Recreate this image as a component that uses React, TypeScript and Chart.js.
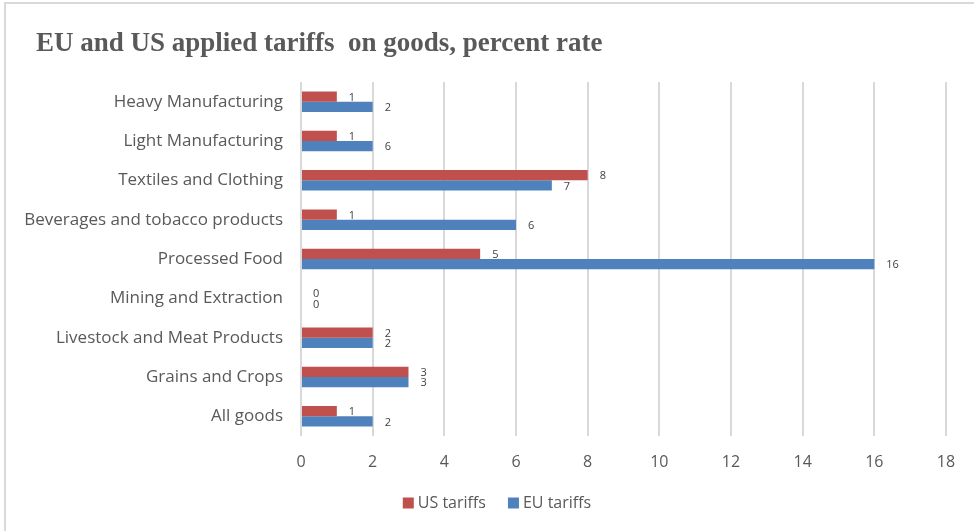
import React, { useEffect, useRef } from "react";
import { Chart, registerables } from "chart.js";

Chart.register(...registerables);

const categories = [
  "Heavy Manufacturing",
  "Light Manufacturing",
  "Textiles and Clothing",
  "Beverages and tobacco products",
  "Processed Food",
  "Mining and Extraction",
  "Livestock and Meat Products",
  "Grains and Crops",
  "All goods",
];
const usTariffs = [1, 1, 8, 1, 5, 0, 2, 3, 1];
const euTariffs = [2, 2, 7, 6, 16, 0, 2, 3, 2];
const usLabels = ["1", "1", "8", "1", "5", "0", "2", "3", "1"];
const euLabels = ["2", "6", "7", "6", "16", "0", "2", "3", "2"];
const xMin = 0;
const xMax = 18;
const xStep = 2;
const titleText = "EU and US applied tariffs  on goods, percent rate";
const seriesNames = ["US tariffs", "EU tariffs"];

const RED = "#C0504D";
const BLUE = "#4F81BD";
const TEXT = "#595959";
const FONT = "'Open Sans', sans-serif";

const labelPlugin = {
  id: "barLabels",
  afterDatasetsDraw(chart: any) {
    const ctx = chart.ctx;
    const all = [usLabels, euLabels];
    ctx.save();
    ctx.font = `11px ${FONT}`;
    ctx.fillStyle = "#404040";
    ctx.textAlign = "left";
    ctx.textBaseline = "middle";
    chart.data.datasets.forEach((_d: any, i: number) => {
      const meta = chart.getDatasetMeta(i);
      meta.data.forEach((bar: any, j: number) => {
        ctx.fillText(all[i][j], bar.x + 12, bar.y + 1);
      });
    });
    ctx.restore();
  },
};

const titlePlugin = {
  id: "customTitle",
  afterDraw(chart: any) {
    const ctx = chart.ctx;
    ctx.save();
    ctx.font = `bold 27px 'Liberation Serif', serif`;
    ctx.fillStyle = TEXT;
    ctx.textAlign = "left";
    ctx.textBaseline = "middle";
    ctx.fillText(titleText, 36, 44);
    ctx.restore();
  },
};

const legendPlugin = {
  id: "customLegend",
  afterDraw(chart: any) {
    const ctx = chart.ctx;
    ctx.save();
    ctx.font = `16px ${FONT}`;
    ctx.textBaseline = "middle";
    ctx.textAlign = "left";
    const box = 11;
    const gapBox = 4;
    const gapItem = 22;
    const ds = chart.data.datasets;
    const widths = ds.map((d: any) => box + gapBox + ctx.measureText(d.label).width);
    const total = widths.reduce((a: number, b: number) => a + b, 0) + gapItem * (ds.length - 1);
    let x = 497 - total / 2;
    const y = 503;
    ds.forEach((d: any, i: number) => {
      ctx.fillStyle = d.backgroundColor;
      ctx.fillRect(x, y - box / 2, box, box);
      ctx.fillStyle = TEXT;
      ctx.fillText(d.label, x + box + gapBox, y);
      x += widths[i] + gapItem;
    });
    ctx.restore();
  },
};

export default function App() {
  const ref = useRef<HTMLCanvasElement | null>(null);

  useEffect(() => {
    if (!ref.current) return;
    const chart = new Chart(ref.current, {
      type: "bar",
      data: {
        labels: categories,
        datasets: [
          {
            label: seriesNames[0],
            data: usTariffs,
            backgroundColor: RED,
            categoryPercentage: 0.52,
            barPercentage: 1,
          },
          {
            label: seriesNames[1],
            data: euTariffs,
            backgroundColor: BLUE,
            categoryPercentage: 0.52,
            barPercentage: 1,
          },
        ],
      },
      options: {
        indexAxis: "y",
        responsive: false,
        animation: false,
        layout: { padding: { top: 82, right: 28, bottom: 48, left: 0 } },
        plugins: {
          legend: { display: false },
          title: { display: false },
          tooltip: { enabled: false },
        },
        scales: {
          x: {
            min: xMin,
            max: xMax,
            ticks: {
              stepSize: xStep,
              color: TEXT,
              font: { family: FONT, size: 16 },
              padding: 17,
            },
            grid: { color: "#d9d9d9", lineWidth: 2, drawTicks: false },
            border: { display: false },
            afterFit(scale: any) {
              scale.height = 47;
            },
          },
          y: {
            ticks: {
              color: TEXT,
              font: { family: FONT, size: 17 },
              padding: 18,
            },
            grid: { display: false, drawTicks: false },
            border: { display: false },
            afterFit(scale: any) {
              scale.width = 301;
            },
          },
        },
      },
      plugins: [labelPlugin, titlePlugin, legendPlugin],
    });
    return () => chart.destroy();
  }, []);

  return (
    <div
      style={{
        position: "absolute",
        left: 0,
        top: 0,
        width: 974,
        height: 531,
        overflow: "hidden",
        background: "#ffffff",
      }}
    >
      <div
        style={{
          position: "absolute",
          left: 4,
          top: 2,
          width: 1100,
          height: 700,
          border: "2px solid #d9d9d9",
        }}
      />
      <canvas
        ref={ref}
        width={974}
        height={531}
        style={{ position: "absolute", left: 0, top: 0, width: 974, height: 531 }}
      />
    </div>
  );
}
